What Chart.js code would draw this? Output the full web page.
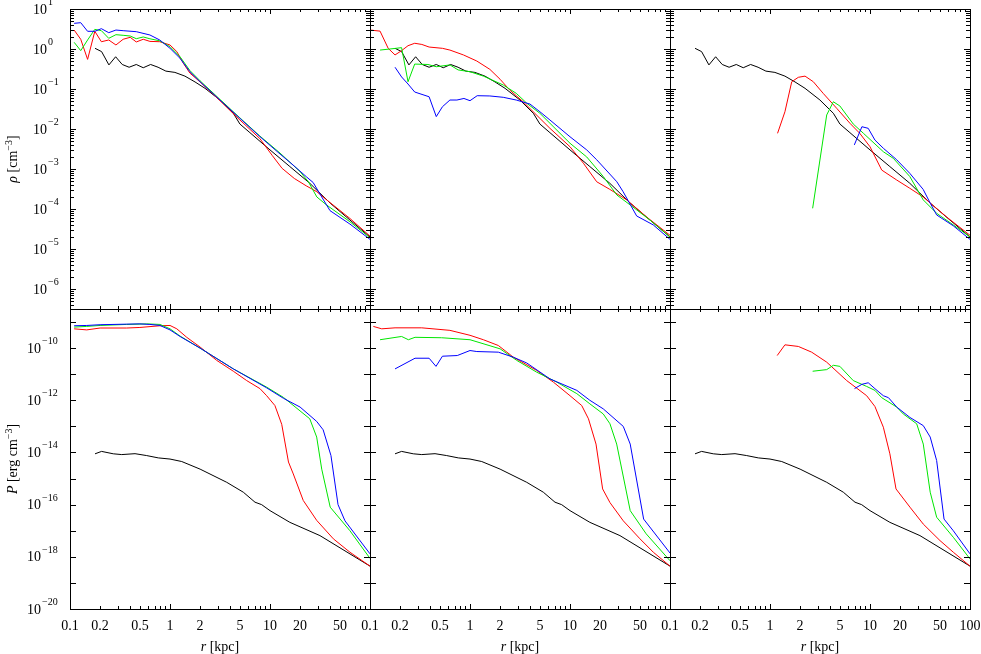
<!DOCTYPE html>
<html>
<head>
<meta charset="utf-8">
<script src="https://cdn.jsdelivr.net/npm/chart.js"></script>
<style>
  html, body { margin: 0; padding: 0; background: #fff; }
  #wrap { position: relative; width: 981px; height: 654px; }
  #wrap canvas { position: absolute; left: 0; top: 0; }
</style>
</head>
<body>
<div id="wrap">
  <canvas id="c0" width="981" height="654"></canvas>
  <canvas id="c1" width="981" height="654"></canvas>
  <canvas id="c2" width="981" height="654"></canvas>
  <canvas id="c3" width="981" height="654"></canvas>
  <canvas id="c4" width="981" height="654"></canvas>
  <canvas id="c5" width="981" height="654"></canvas>
</div>
<script>
// --- density rho [cm^-3], top row ---
// black reference profile (same in all three panels)
const rhoBlackR = [0.178, 0.207, 0.245, 0.286, 0.333, 0.39, 0.46, 0.54, 0.64, 0.76, 0.91, 1.12, 1.41, 1.78, 2.24, 3.16, 4.3, 5.0, 6.3, 10, 15.8, 25, 40, 63, 100];
const rhoBlack = [1.04, 0.86, 0.40, 0.64, 0.41, 0.35, 0.41, 0.34, 0.41, 0.35, 0.28, 0.26, 0.21, 0.15, 0.104, 0.053, 0.0247, 0.0133, 0.0081, 0.0030, 0.00115, 0.00044, 0.00014, 5.3e-5, 2.0e-5];

// left panel
const rhoLRedR = [0.11, 0.128, 0.15, 0.177, 0.206, 0.244, 0.288, 0.34, 0.40, 0.46, 0.54, 0.63, 0.79, 1.0, 1.17, 1.36, 1.58, 2.0, 3.16, 5.0, 7.9, 10.5, 13.2, 17.5, 23, 29.4, 36.8, 63, 100];
const rhoLRed = [2.98, 1.75, 0.55, 2.77, 1.52, 1.68, 1.26, 1.75, 1.96, 1.5, 1.75, 1.55, 1.52, 1.26, 0.86, 0.44, 0.25, 0.15, 0.051, 0.0168, 0.0058, 0.0022, 0.00104, 0.00058, 0.00038, 0.00027, 0.00017, 5.8e-5, 2.1e-5];
const rhoLGreenR = [0.11, 0.128, 0.15, 0.177, 0.206, 0.244, 0.288, 0.34, 0.40, 0.46, 0.54, 0.63, 0.79, 1.0, 1.26, 1.58, 2.0, 3.16, 5.0, 7.9, 12.6, 20, 24.2, 29.4, 36.8, 63, 100];
const rhoLGreen = [1.47, 0.91, 1.68, 3.1, 2.87, 1.85, 2.28, 2.2, 2.11, 1.81, 2.0, 1.8, 1.6, 1.14, 0.64, 0.29, 0.16, 0.055, 0.019, 0.0067, 0.0025, 0.00086, 0.00048, 0.0002, 0.000126, 4.8e-5, 1.9e-5];
const rhoLBlueR = [0.11, 0.128, 0.15, 0.177, 0.206, 0.244, 0.288, 0.34, 0.46, 0.63, 0.79, 1.0, 1.26, 1.58, 2.0, 3.16, 5.0, 7.9, 12.6, 17, 23.1, 27, 32.9, 39.8, 63, 100];
const rhoLBlue = [4.38, 4.55, 2.77, 2.77, 3.22, 2.56, 2.98, 2.87, 2.71, 2.24, 1.68, 1.04, 0.585, 0.271, 0.152, 0.053, 0.0185, 0.0065, 0.00237, 0.00126, 0.00064, 0.00046, 0.0002, 9.1e-5, 4.2e-5, 1.74e-5];

// middle panel
const rhoMRedR = [0.1, 0.126, 0.152, 0.178, 0.207, 0.24, 0.28, 0.33, 0.39, 0.53, 0.63, 0.86, 1.17, 1.58, 2.0, 2.5, 3.4, 6.3, 10, 13.6, 18.5, 25, 36.8, 58, 100];
const rhoMRed = [2.98, 2.8, 1.04, 0.71, 0.91, 1.21, 1.39, 1.3, 1.12, 1.04, 0.94, 0.71, 0.5, 0.31, 0.175, 0.094, 0.048, 0.0104, 0.0036, 0.0014, 0.00048, 0.00031, 0.00017, 6.4e-5, 2.2e-5];
const rhoMGreenR = [0.126, 0.158, 0.207, 0.24, 0.28, 0.38, 0.46, 0.63, 0.76, 1.0, 1.36, 2.15, 2.9, 3.7, 5.0, 10, 14.7, 21.5, 29.4, 40, 63, 100];
const rhoMGreen = [0.94, 1.0, 1.08, 0.152, 0.42, 0.41, 0.36, 0.4, 0.3, 0.27, 0.21, 0.126, 0.078, 0.044, 0.0247, 0.0044, 0.002, 0.00065, 0.000224, 0.000126, 5.3e-5, 2.0e-5];
const rhoMBlueR = [0.178, 0.207, 0.24, 0.28, 0.39, 0.46, 0.53, 0.63, 0.74, 0.87, 1.0, 1.18, 1.58, 2.15, 2.9, 3.98, 5.0, 6.3, 10, 14.7, 18.5, 29.4, 34, 46.4, 68, 100];
const rhoMBlue = [0.35, 0.2, 0.133, 0.084, 0.064, 0.0204, 0.036, 0.053, 0.053, 0.058, 0.051, 0.068, 0.067, 0.062, 0.053, 0.042, 0.027, 0.0168, 0.0064, 0.003, 0.0017, 0.00048, 0.00027, 6.7e-5, 4.0e-5, 1.74e-5];

// right panel
const rhoRRedR = [1.19, 1.41, 1.65, 1.92, 2.24, 2.71, 3.4, 4.64, 6.3, 7.9, 10, 13.1, 18.5, 25, 34, 58, 100];
const rhoRRed = [0.0078, 0.027, 0.152, 0.196, 0.21, 0.152, 0.078, 0.033, 0.0139, 0.0078, 0.0036, 0.00094, 0.00053, 0.00033, 0.0002, 6.4e-5, 2.2e-5];
const rhoRGreenR = [2.67, 3.69, 4.3, 5.0, 6.8, 8.6, 13.6, 17.1, 25, 34, 46.4, 68, 100];
const rhoRGreen = [1.04e-4, 0.0224, 0.048, 0.0376, 0.0133, 0.0078, 0.0027, 0.00185, 0.00065, 0.00017, 7.8e-5, 4.0e-5, 2.0e-5];
const rhoRBlueR = [6.97, 8.3, 9.6, 11.2, 13.6, 18.5, 25, 34, 40, 46.4, 68, 100];
const rhoRBlue = [0.004, 0.0114, 0.0104, 0.0053, 0.0033, 0.0017, 0.00078, 0.00031, 0.00014, 7.1e-5, 3.8e-5, 1.74e-5];

// --- pressure P [erg cm^-3], bottom row ---
const pBlackR = [0.178, 0.207, 0.271, 0.329, 0.447, 0.585, 0.764, 1.0, 1.31, 2.0, 3.69, 5.41, 7.08, 8.25, 10, 15.8, 31.6, 100];
const pBlack = [8.9e-15, 1.1e-14, 8.9e-15, 8.3e-15, 9e-15, 7.6e-15, 6.2e-15, 5.6e-15, 4.5e-15, 2.3e-15, 7.2e-16, 3.0e-16, 1.24e-16, 1.0e-16, 5.9e-17, 2.1e-17, 6.5e-18, 4.4e-19];

const pLRedR = [0.11, 0.147, 0.2, 0.369, 0.5, 0.794, 1.0, 1.17, 1.47, 2.0, 2.93, 4.3, 5.85, 7.94, 9.26, 11.2, 13.1, 15.3, 17.1, 21.5, 29.3, 43, 63, 100];
const pLRed = [5.5e-10, 5.0e-10, 5.9e-10, 5.9e-10, 6.2e-10, 7.2e-10, 7.4e-10, 5.5e-10, 2.6e-10, 1.1e-10, 3.4e-11, 1.3e-11, 5.7e-12, 2.8e-12, 1.5e-12, 6.3e-13, 1.2e-13, 4.3e-15, 1.5e-15, 1.45e-16, 2.5e-17, 4.9e-18, 1.5e-18, 4.4e-19];
const pLGreenR = [0.11, 0.147, 0.2, 0.369, 0.585, 0.794, 1.0, 1.26, 2.0, 4.3, 9.26, 13.6, 25, 29.3, 32.9, 40, 63, 100];
const pLGreen = [6.4e-10, 6.8e-10, 7.4e-10, 8.1e-10, 8.5e-10, 8.1e-10, 5.5e-10, 2.9e-10, 1e-10, 1.6e-11, 3.2e-12, 1.3e-12, 1.95e-13, 3.9e-14, 2.3e-15, 8e-17, 1e-17, 8.7e-19];
const pLBlueR = [0.11, 0.147, 0.2, 0.369, 0.5, 0.63, 0.794, 1.0, 1.26, 2.0, 4.3, 9.26, 13.6, 20, 29.3, 34, 40.7, 47.9, 56.2, 100];
const pLBlue = [7.2e-10, 7.4e-10, 7.9e-10, 8.3e-10, 8.5e-10, 8.1e-10, 7.4e-10, 5.0e-10, 2.8e-10, 1e-10, 1.6e-11, 3.0e-12, 1.2e-12, 5.5e-13, 1.55e-13, 7.4e-14, 7.6e-15, 1.0e-16, 2.4e-17, 1.3e-18];

const pMRedR = [0.108, 0.131, 0.178, 0.329, 0.63, 1.0, 1.36, 1.92, 2.71, 4.64, 6.81, 10, 13.1, 15.3, 18.2, 21.2, 25.1, 34.1, 50.1, 68.1, 100];
const pMRed = [6.8e-10, 5.5e-10, 6.0e-10, 6.0e-10, 4.8e-10, 3.1e-10, 2.1e-10, 1.26e-10, 4.5e-11, 1.4e-11, 5.0e-12, 1.5e-12, 6.3e-13, 1.95e-13, 2.1e-14, 4e-16, 1.2e-16, 2.4e-17, 4.9e-18, 1.5e-18, 4.4e-19];
const pMGreenR = [0.126, 0.207, 0.242, 0.282, 0.52, 1.0, 2.0, 2.93, 4.64, 7.36, 11.7, 15.8, 21.5, 25.1, 29.3, 40, 57.8, 100];
const pMGreen = [2.1e-10, 2.8e-10, 2.1e-10, 2.6e-10, 2.5e-10, 2.1e-10, 9.4e-11, 3.4e-11, 1.2e-11, 5.0e-12, 1.8e-12, 7.3e-13, 3.0e-13, 1.26e-13, 2.1e-14, 5.9e-17, 7.6e-18, 7.1e-19];
const pMBlueR = [0.178, 0.282, 0.39, 0.457, 0.53, 0.746, 1.0, 1.17, 1.92, 2.71, 3.69, 6.31, 11.7, 15.8, 21.5, 34.1, 40, 54.5, 100];
const pMBlue = [1.6e-11, 4.1e-11, 4.1e-11, 2.0e-11, 4.9e-11, 5.2e-11, 8.1e-11, 7.4e-11, 7e-11, 4.5e-11, 2.7e-11, 6.6e-12, 2.4e-12, 1.0e-12, 4.7e-13, 1.0e-13, 2.1e-14, 2.8e-17, 1.4e-18];

const pRRedR = [1.18, 1.41, 1.92, 2.61, 3.69, 5.85, 9.26, 11.2, 13.6, 15.8, 18.2, 25.1, 34.1, 50.1, 68.1, 100];
const pRRed = [5.2e-11, 1.34e-10, 1.16e-10, 7e-11, 2.9e-11, 5.7e-12, 1.5e-12, 5.8e-13, 9.3e-14, 8.9e-15, 4e-16, 8e-17, 1.8e-17, 4.2e-18, 1.5e-18, 4.4e-19];
const pRGreenR = [2.67, 3.69, 4.3, 5.0, 6.8, 9.26, 11.2, 13.1, 18.5, 21.5, 29.3, 34.1, 40, 46.4, 68.1, 100];
const pRGreen = [1.3e-11, 1.5e-11, 2.2e-11, 2.0e-11, 5.7e-12, 3.4e-12, 2.4e-12, 1.26e-12, 5.5e-13, 3.0e-13, 1.26e-13, 2.1e-14, 3.0e-16, 3.3e-17, 5.6e-18, 8.3e-19];
const pRBlueR = [7.0, 8.3, 9.6, 11.2, 13.6, 15.3, 18.5, 25.1, 34.1, 40, 46.4, 55, 68.1, 100];
const pRBlue = [2.8e-12, 4.1e-12, 4.7e-12, 2.8e-12, 1.5e-12, 1.26e-12, 5.5e-13, 2.2e-13, 1.07e-13, 3.9e-14, 4.9e-15, 2.8e-17, 1e-17, 1.3e-18];

// tick labels
const rTickLabels = ['0.1', '0.2', '0.5', '1', '2', '5', '10', '20', '50', '100'];
const rhoTickExps = [1, 0, -1, -2, -3, -4, -5, -6];
const pTickExps = [-10, -12, -14, -16, -18, -20];

const W = 981, H = 654, PW = 300, PH = 300;
const colLeft = [70, 370, 670];
const rowTop = [9, 309];
const SERIF = '"Liberation Serif", "DejaVu Serif", serif';
const TICK_FONT = '14px ' + SERIF;
const SUP_FONT = '10px ' + SERIF;

function isDecade(v) {
  const lg = Math.log10(v);
  return Math.abs(lg - Math.round(lg)) < 1e-6;
}
function isWholeStep(v) {
  const m = v / Math.pow(10, Math.floor(Math.log10(v) + 1e-9));
  return Math.abs(m - Math.round(m)) < 1e-6;
}

// "10" with a raised exponent, starting at xLeft
function drawPow(ctx, exp, xLeft, y) {
  const e = String(exp).replace('-', '\u2212');
  ctx.font = TICK_FONT;
  const wb = ctx.measureText('10').width;
  ctx.fillText('10', xLeft, y + 4.5);
  ctx.font = SUP_FONT;
  ctx.fillText(e, xLeft + wb + 1, y - 4);
}

// axis title made of pieces (italic symbol, unit, superscript)
function drawTitle(ctx, parts, x, y, rotate) {
  ctx.save();
  ctx.translate(x, y);
  if (rotate) ctx.rotate(-Math.PI / 2);
  let total = 0;
  parts.forEach(p => { ctx.font = p.font; p.w = ctx.measureText(p.t).width; total += p.w; });
  let cx = -total / 2;
  parts.forEach(p => {
    ctx.font = p.font;
    ctx.fillText(p.t, cx, p.sup ? -5.5 : 0);
    cx += p.w;
  });
  ctx.restore();
}

const framePlugin = {
  id: 'frame',
  afterDraw(chart, args, o) {
    const {ctx, chartArea: a} = chart;
    const xs = chart.scales.x, ys = chart.scales.y;
    ctx.save();
    ctx.strokeStyle = '#000';
    ctx.lineWidth = 1;
    ctx.beginPath();
    xs.ticks.forEach(t => {
      if (!isWholeStep(t.value)) return;
      const p = Math.round(xs.getPixelForValue(t.value)) + 0.5;
      const len = isDecade(t.value) ? 5 : 3;
      ctx.moveTo(p, a.bottom); ctx.lineTo(p, a.bottom - len);
      ctx.moveTo(p, a.top); ctx.lineTo(p, a.top + len);
    });
    ys.ticks.forEach(t => {
      if (!isWholeStep(t.value)) return;
      const major = isDecade(t.value);
      if (!major && !o.yMinor) return;
      const p = Math.round(ys.getPixelForValue(t.value)) + 0.5;
      const len = major ? 6 : 4;
      ctx.moveTo(a.left, p); ctx.lineTo(a.left + len, p);
      ctx.moveTo(a.right, p); ctx.lineTo(a.right - len, p);
    });
    ctx.stroke();
    ctx.strokeRect(a.left + 0.5, a.top + 0.5, a.right - a.left, a.bottom - a.top);

    ctx.fillStyle = '#000';
    ctx.textBaseline = 'alphabetic';
    if (o.xLabels) {
      ctx.font = TICK_FONT;
      ctx.textAlign = 'center';
      rTickLabels.forEach(s => {
        const v = Number(s);
        if (v >= 100 && !o.lastCol) return;
        ctx.fillText(s, xs.getPixelForValue(v), a.bottom + 20.5);
      });
      ctx.textAlign = 'left';
      drawTitle(ctx, [
        {t: 'r', font: 'italic 14px ' + SERIF},
        {t: ' [kpc]', font: '14px ' + SERIF}
      ], (a.left + a.right) / 2, 651, false);
    }
    if (o.yExps) {
      ctx.textAlign = 'left';
      o.yExps.forEach(e => drawPow(ctx, e, o.yLabelX, ys.getPixelForValue(Math.pow(10, e))));
      drawTitle(ctx, o.yTitle, 17, (a.top + a.bottom) / 2, true);
    }
    ctx.restore();
  }
};

function series(r, v, color) {
  return {
    data: r.map((x, i) => ({x, y: v[i]})),
    borderColor: color, borderWidth: 1, pointRadius: 0, fill: false, tension: 0
  };
}

function logAxis(min, max) {
  return {
    type: 'logarithmic', min, max,
    grid: {display: false}, border: {display: false}, ticks: {display: false},
    afterFit(s) { if (s.isHorizontal()) s.height = 0; else s.width = 0; }
  };
}

function panel(id, col, row, datasets, frame) {
  const left = colLeft[col], top = rowTop[row];
  const yAxis = row === 0 ? logAxis(Math.pow(10, -6.5), 10) : logAxis(1e-20, Math.pow(10, -8.5));
  return new Chart(document.getElementById(id), {
    type: 'line',
    data: {datasets},
    options: {
      responsive: false,
      animation: false,
      events: [],
      layout: {autoPadding: false, padding: {left, top, right: W - left - PW, bottom: H - top - PH}},
      plugins: {legend: {display: false}, tooltip: {enabled: false}, frame},
      scales: {x: logAxis(0.1, 100), y: yAxis}
    },
    plugins: [framePlugin]
  });
}

const RED = '#ff0000', GREEN = '#00e600', BLUE = '#0000ff', BLACK = '#000000';

const rhoTitle = [
  {t: '\u03c1', font: 'italic 14px ' + SERIF},
  {t: ' [cm', font: '14px ' + SERIF},
  {t: '\u22123', font: '10px ' + SERIF, sup: true},
  {t: ']', font: '14px ' + SERIF}
];
const pTitle = [
  {t: 'P', font: 'italic 14px ' + SERIF},
  {t: ' [erg cm', font: '14px ' + SERIF},
  {t: '\u22123', font: '10px ' + SERIF, sup: true},
  {t: ']', font: '14px ' + SERIF}
];

// datasets listed top-most first (Chart.js draws index 0 last)
panel('c0', 0, 0, [
  series(rhoLBlueR, rhoLBlue, BLUE), series(rhoLGreenR, rhoLGreen, GREEN),
  series(rhoLRedR, rhoLRed, RED), series(rhoBlackR, rhoBlack, BLACK)
], {yMinor: true, yExps: rhoTickExps, yTitle: rhoTitle, yLabelX: 33});
panel('c1', 1, 0, [
  series(rhoMBlueR, rhoMBlue, BLUE), series(rhoMGreenR, rhoMGreen, GREEN),
  series(rhoMRedR, rhoMRed, RED), series(rhoBlackR, rhoBlack, BLACK)
], {yMinor: true});
panel('c2', 2, 0, [
  series(rhoRBlueR, rhoRBlue, BLUE), series(rhoRGreenR, rhoRGreen, GREEN),
  series(rhoRRedR, rhoRRed, RED), series(rhoBlackR, rhoBlack, BLACK)
], {yMinor: true});
panel('c3', 0, 1, [
  series(pLBlueR, pLBlue, BLUE), series(pLGreenR, pLGreen, GREEN),
  series(pLRedR, pLRed, RED), series(pBlackR, pBlack, BLACK)
], {yMinor: false, xLabels: true, yExps: pTickExps, yTitle: pTitle, yLabelX: 27});
panel('c4', 1, 1, [
  series(pMBlueR, pMBlue, BLUE), series(pMGreenR, pMGreen, GREEN),
  series(pMRedR, pMRed, RED), series(pBlackR, pBlack, BLACK)
], {yMinor: false, xLabels: true});
panel('c5', 2, 1, [
  series(pRBlueR, pRBlue, BLUE), series(pRGreenR, pRGreen, GREEN),
  series(pRRedR, pRRed, RED), series(pBlackR, pBlack, BLACK)
], {yMinor: false, xLabels: true, lastCol: true});
</script>
</body>
</html>
